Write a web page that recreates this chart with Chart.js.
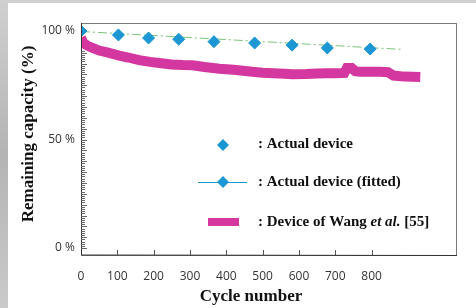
<!DOCTYPE html>
<html>
<head>
<meta charset="utf-8">
<script src="https://cdn.jsdelivr.net/npm/chart.js@4.4.1/dist/chart.umd.min.js"></script>
<style>
  html, body { margin: 0; padding: 0; background: #c4c4c4; }
  #wrap { width: 476px; height: 308px; position: relative; }
</style>
</head>
<body>
<div id="wrap"><canvas id="myChart" width="476" height="308"></canvas></div>
<script>
// measured cycles (diamonds)
var actualCycles = [0, 103, 186, 269, 366, 478, 581, 678, 796];
var actualCapacity = [100, 98.2, 96.8, 96.2, 95.1, 94.5, 93.5, 92.2, 91.7];

// fitted line end points
var fitCycles = [0, 887];
var fitCapacity = [99.8, 91.5];

// Wang et al. curve
var wangCycles = [0, 5, 15, 30, 50, 75, 105, 130, 160, 190, 215, 250, 280, 307, 340, 381, 420, 472, 500, 530,
  560, 583, 620, 650, 676, 700, 725, 732, 745, 755, 768, 800, 823, 845, 860, 890, 934];
var wangCapacity = [97, 95, 93.5, 92.3, 91, 90, 88.7, 87.8, 86.6, 85.8, 85.3, 84.6, 84.3, 84.2, 83.4, 82.6, 82.2, 81.2, 80.8, 80.6,
  80.3, 80.1, 80.2, 80.4, 80.5, 80.6, 80.7, 83, 83, 81.5, 81.2, 81.2, 81.2, 81, 79.5, 79, 78.8];

var xTicks = [0, 100, 200, 300, 400, 500, 600, 700, 800];
var yTicks = [0, 50, 100];

var blue = '#1c97d3';
var pink = '#d4379f';
var green = '#7ac37a';

function toPoints(xs, ys) {
  var pts = [];
  for (var i = 0; i < xs.length; i++) {
    pts.push({x: xs[i], y: ys[i]});
  }
  return pts;
}

// background panel, frame, inner ticks, legend and axis titles
var decorPlugin = {
  id: 'decor',
  beforeDraw: function(chart) {
    var ctx = chart.ctx;
    ctx.save();
    var g = ctx.createLinearGradient(0, 0, 0, 308);
    g.addColorStop(0, '#d0d0d0');
    g.addColorStop(0.5, '#b4b4b4');
    g.addColorStop(1, '#cacaca');
    ctx.fillStyle = g;
    ctx.fillRect(0, 0, chart.width, chart.height);
    ctx.fillStyle = '#ffffff';
    ctx.fillRect(8, 3, chart.width - 8, chart.height - 3);
    ctx.restore();
  },
  afterDatasetsDraw: function(chart) {
    var ctx = chart.ctx;
    var a = chart.chartArea;
    var xs = chart.scales.x;
    var ys = chart.scales.y;
    ctx.save();

    // frame
    ctx.strokeStyle = '#7a7a7a';
    ctx.lineWidth = 1;
    ctx.strokeRect(a.left + 0.5, a.top + 0.5, a.right - a.left - 1, a.bottom - a.top);
    ctx.strokeStyle = '#333';
    ctx.beginPath();
    ctx.moveTo(a.left + 0.5, a.top);
    ctx.lineTo(a.left + 0.5, a.bottom);
    ctx.lineTo(a.right, a.bottom + 0.5);
    ctx.stroke();

    // dense minor ticks on y axis
    ctx.strokeStyle = '#666';
    for (var v = 0; v <= 91; v++) {
      var py = Math.round(ys.getPixelForValue(v)) + 0.5;
      ctx.beginPath();
      ctx.moveTo(a.left, py);
      ctx.lineTo(a.left + (v % 5 == 0 ? 6 : 4), py);
      ctx.stroke();
    }

    // x ticks pointing up
    ctx.strokeStyle = '#555';
    for (var i = 1; i < xTicks.length; i++) {
      var px = Math.round(xs.getPixelForValue(xTicks[i])) + 0.5;
      ctx.beginPath();
      ctx.moveTo(px, a.bottom);
      ctx.lineTo(px, a.bottom - 5);
      ctx.stroke();
    }

    // legend
    var lx = 258;
    ctx.fillStyle = blue;
    drawDiamond(ctx, 223, 145, 6);
    ctx.strokeStyle = blue;
    ctx.beginPath();
    ctx.moveTo(198, 182.5);
    ctx.lineTo(247, 182.5);
    ctx.stroke();
    drawDiamond(ctx, 223, 182, 6);
    ctx.fillStyle = pink;
    ctx.fillRect(208, 218, 31, 8);

    ctx.fillStyle = '#111';
    ctx.textBaseline = 'middle';
    ctx.textAlign = 'left';
    ctx.font = 'bold 15px "Liberation Serif"';
    ctx.fillText(': Actual device', lx, 144);
    ctx.fillText(': Actual device (fitted)', lx, 182);
    var t1 = ': Device of Wang ';
    ctx.fillText(t1, lx, 222);
    var w1 = ctx.measureText(t1).width;
    ctx.font = 'italic bold 15px "Liberation Serif"';
    var t2 = 'et al.';
    ctx.fillText(t2, lx + w1, 222);
    var w2 = ctx.measureText(t2).width;
    ctx.font = 'bold 15px "Liberation Serif"';
    ctx.fillText(' [55]', lx + w1 + w2, 222);

    // axis titles
    ctx.font = 'bold 17px "Liberation Serif"';
    ctx.textAlign = 'center';
    ctx.fillText('Cycle number', 251, 297);
    ctx.translate(29, 134);
    ctx.rotate(-Math.PI / 2);
    ctx.fillText('Remaining capacity (%)', 0, 0);
    ctx.restore();
  }
};

function drawDiamond(ctx, x, y, r) {
  ctx.beginPath();
  ctx.moveTo(x, y - r);
  ctx.lineTo(x + r, y);
  ctx.lineTo(x, y + r);
  ctx.lineTo(x - r, y);
  ctx.closePath();
  ctx.fill();
}

var ctx = document.getElementById('myChart').getContext('2d');
var chart = new Chart(ctx, {
  type: 'scatter',
  data: {
    datasets: [{
      label: 'Device of Wang et al. [55]',
      type: 'line',
      data: toPoints(wangCycles, wangCapacity),
      borderColor: pink,
      backgroundColor: pink,
      borderWidth: 10,
      pointRadius: 0,
      tension: 0,
      order: 3
    }, {
      label: 'Actual device (fitted)',
      type: 'line',
      data: toPoints(fitCycles, fitCapacity),
      borderColor: green,
      borderWidth: 1,
      borderDash: [9, 3, 2, 3],
      pointRadius: 0,
      order: 2
    }, {
      label: 'Actual device',
      data: toPoints(actualCycles, actualCapacity),
      backgroundColor: blue,
      borderColor: blue,
      pointStyle: 'rectRot',
      pointRadius: 6,
      order: 1
    }]
  },
  options: {
    responsive: false,
    animation: false,
    layout: {padding: {top: 23, right: 19, left: 0, bottom: 0}},
    plugins: {legend: {display: false}, tooltip: {enabled: false}},
    scales: {
      x: {
        type: 'linear',
        min: 0,
        max: 1035,
        grid: {display: false, drawTicks: false},
        border: {display: false},
        afterBuildTicks: function(scale) {
          scale.ticks = xTicks.map(function(v) { return {value: v}; });
        },
        afterFit: function(scale) { scale.height = 53; },
        ticks: {
          padding: 14,
          maxRotation: 0,
          color: '#333',
          font: {family: 'Open Sans', size: 12}
        }
      },
      y: {
        min: -3.2,
        max: 103.7,
        grid: {display: false, drawTicks: false},
        border: {display: false},
        afterBuildTicks: function(scale) {
          scale.ticks = yTicks.map(function(v) { return {value: v}; });
        },
        afterFit: function(scale) { scale.width = 81; },
        ticks: {
          padding: 6,
          color: '#333',
          font: {family: 'Open Sans', size: 12},
          callback: function(v) { return v + ' %'; }
        }
      }
    }
  },
  plugins: [decorPlugin]
});
</script>
</body>
</html>
